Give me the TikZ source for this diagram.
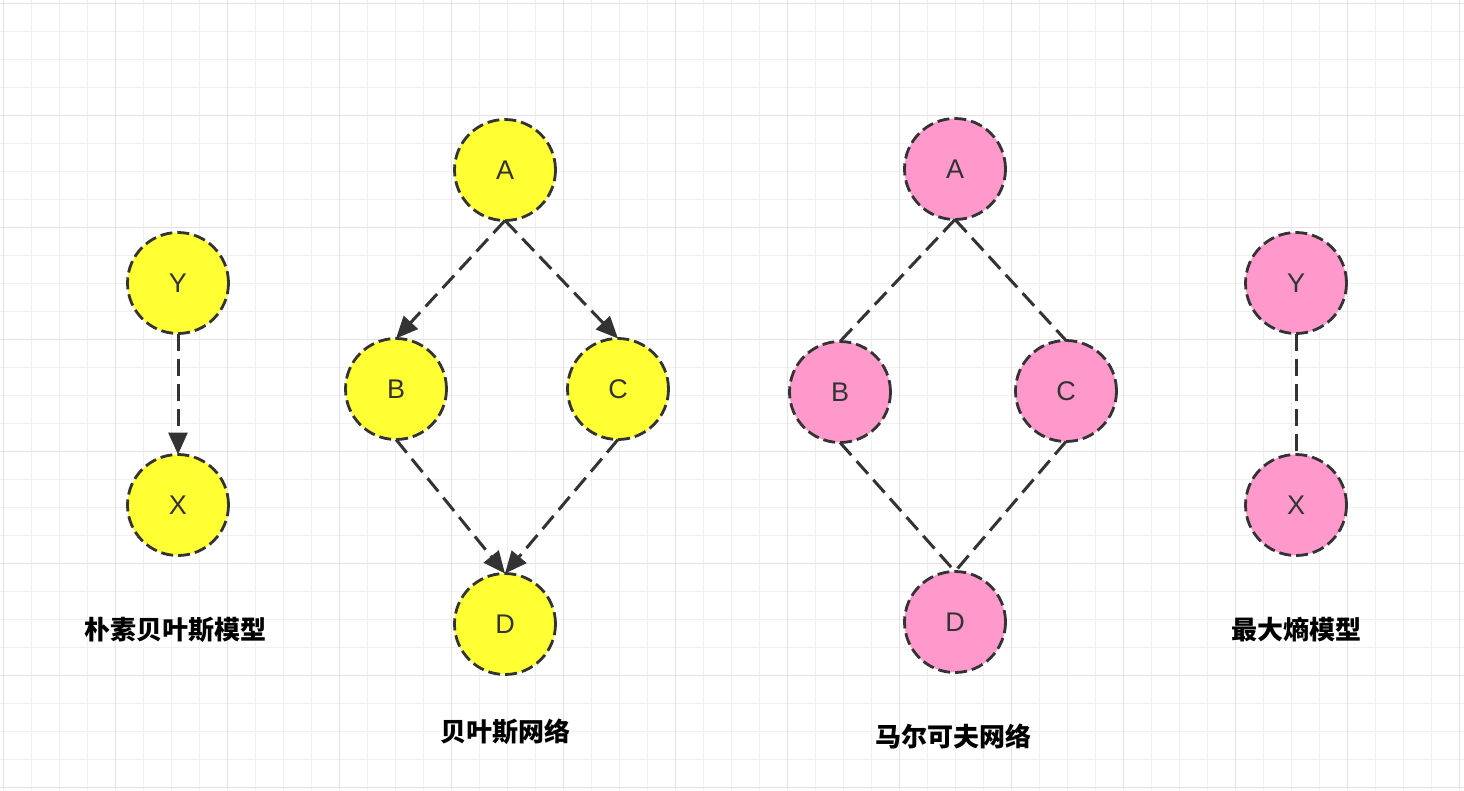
\documentclass[tikz,border=0pt]{standalone}
\usepackage{fontspec}
\setmainfont{Liberation Sans}
\newfontfamily\cjk{Noto Sans CJK SC}
\usepackage{xcolor}
\definecolor{nodey}{RGB}{255,255,51}
\definecolor{nodep}{RGB}{255,153,204}
\definecolor{ink}{RGB}{51,51,51}
\definecolor{gminor}{RGB}{240,240,240}
\definecolor{gmajor}{RGB}{226,226,226}
\usetikzlibrary{arrows.meta}
\tikzset{
  var/.style={circle,draw=ink,line width=2.8pt,dash pattern=on 12pt off 5pt,
    minimum size=101pt,inner sep=0pt,outer sep=0pt,text=ink,
    font=\fontsize{27}{27}\selectfont},
  link/.style={draw=ink,line width=3pt,dash pattern=on 17pt off 8pt},
  arr/.style={link,-{Triangle[length=22pt,width=19pt]}},
  caption/.style={font=\cjk\bfseries\fontsize{26}{26}\selectfont,text=black}
}

\begin{document}
\begin{tikzpicture}[x=1pt,y=-1pt]
\fill[white] (0,0) rectangle (1464,790);
\useasboundingbox (0,0) rectangle (1464,790);
% grid
\foreach \i in {0,...,52} \draw[gminor,line width=1pt] (3+28*\i,0) -- (3+28*\i,790);
\foreach \j in {0,...,28} \draw[gminor,line width=1pt] (0,3+28*\j) -- (1464,3+28*\j);
\foreach \i in {0,...,13} \draw[gmajor,line width=1pt] (3+112*\i,0) -- (3+112*\i,790);
\foreach \j in {0,...,7} \draw[gmajor,line width=1pt] (0,3+112*\j) -- (1464,3+112*\j);

% naive bayes
\node[var,fill=nodey] (y1) at (178,283) {Y};
\node[var,fill=nodey] (x1) at (178,505) {X};
\node[caption] (t1) at (175,630) {朴素贝叶斯模型};

% bayes net
\node[var,fill=nodey] (a1) at (505,170) {A};
\node[var,fill=nodey] (b1) at (396,389) {B};
\node[var,fill=nodey] (c1) at (618,389) {C};
\node[var,fill=nodey] (d1) at (505,624) {D};
\node[caption] (t2) at (505,732) {贝叶斯网络};

% markov net
\node[var,fill=nodep] (a2) at (955,169) {A};
\node[var,fill=nodep] (b2) at (840,392) {B};
\node[var,fill=nodep] (c2) at (1066,391) {C};
\node[var,fill=nodep] (d2) at (955,622) {D};
\node[caption] (t3) at (953,736) {马尔可夫网络};

% max entropy
\node[var,fill=nodep] (y2) at (1296,283) {Y};
\node[var,fill=nodep] (x2) at (1296,505) {X};
\node[caption] (t4) at (1296,630) {最大熵模型};

\draw[arr] (y1.south) -- (x1.north);
\draw[arr] (a1.south) -- (b1.north);
\draw[arr] (a1.south) -- (c1.north);
\draw[arr] (b1.south) -- (d1.north);
\draw[arr] (c1.south) -- (d1.north);
\draw[link] (a2.south) -- (b2.north);
\draw[link] (a2.south) -- (c2.north);
\draw[link] (b2.south) -- (d2.north);
\draw[link] (c2.south) -- (d2.north);
\draw[link] (y2.south) -- (x2.north);
\end{tikzpicture}
\end{document}
